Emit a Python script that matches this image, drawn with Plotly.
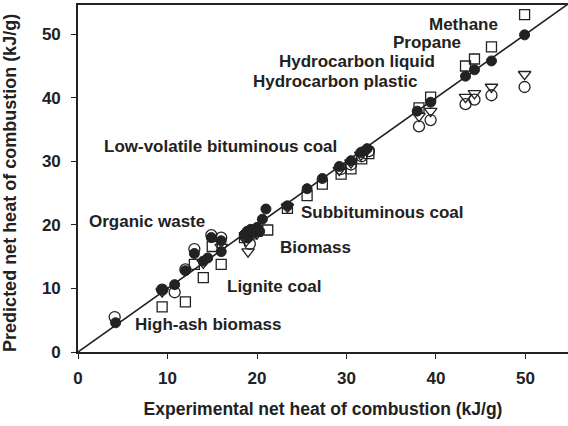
import plotly.graph_objects as go

# Filled circles (model prediction)
fc_x = [4.2, 9.4, 10.8, 12.0, 13.0, 14.0, 14.5, 14.9, 16.0, 16.0, 18.6, 18.9, 19.0, 19.3, 19.6, 20.0, 20.3, 20.6, 21.0,
        23.4, 25.6, 27.3, 29.2, 30.5, 31.6, 32.3, 37.9, 39.4, 43.3, 44.3, 46.2, 49.9]
fc_y = [4.6, 9.8, 10.6, 12.8, 15.5, 14.3, 14.8, 18.0, 15.8, 17.5, 18.5, 19.0, 18.0, 19.3, 18.8, 19.6, 19.0, 20.9, 22.5,
        23.0, 25.7, 27.3, 29.2, 30.1, 31.4, 32.0, 37.9, 39.3, 43.4, 44.4, 45.8, 49.9]

# Open circles
oc_x = [4.1, 9.4, 10.8, 12.0, 13.0, 14.9, 16.0, 18.8, 19.2, 20.0, 29.4, 30.5, 31.7, 32.5, 38.1, 39.4, 43.3, 44.3, 46.2, 49.9]
oc_y = [5.5, 9.8, 9.4, 13.0, 16.2, 18.4, 18.0, 18.2, 17.0, 19.3, 28.8, 29.5, 30.8, 31.6, 35.5, 36.5, 39.0, 39.7, 40.4, 41.7]

# Open down-triangles
tr_x = [9.4, 14.0, 16.0, 18.8, 19.0, 20.0, 23.4, 29.2, 30.5, 31.6, 32.3, 38.1, 39.4, 43.3, 44.3, 46.2, 49.9]
tr_y = [9.5, 14.0, 16.5, 17.5, 15.8, 18.6, 22.8, 28.6, 29.8, 31.0, 31.8, 37.1, 37.9, 40.1, 40.7, 41.7, 43.7]

# Open squares
sq_x = [9.4, 12.0, 13.0, 14.0, 15.0, 16.0, 18.6, 19.4, 20.0, 21.2, 23.4, 25.6, 27.3, 29.4, 30.5, 31.7, 32.5,
        38.1, 39.4, 43.3, 44.3, 46.2, 49.9]
sq_y = [7.1, 7.9, 13.8, 11.7, 16.6, 13.8, 18.0, 18.6, 19.0, 19.2, 22.6, 24.6, 26.4, 28.0, 28.8, 30.4, 31.2,
        38.4, 40.1, 45.0, 46.1, 48.0, 53.1]

line_xy = [0, 60]

labels = ["Methane", "Propane", "Hydrocarbon liquid", "Hydrocarbon plastic", "Low-volatile bituminous coal",
          "Organic waste", "Subbituminous coal", "Biomass", "Lignite coal", "High-ash biomass"]
label_x = [47.2, 43.0, 40.1, 38.1, 2.7, 1.0, 24.7, 22.3, 16.4, 6.1]
label_y = [51.5, 48.7, 45.7, 42.6, 32.4, 20.6, 21.9, 16.5, 10.3, 4.3]
label_anchor = ["right", "right", "right", "right", "left", "left", "left", "left", "left", "left"]

x_title = "Experimental net heat of combustion (kJ/g)"
y_title = "Predicted net heat of combustion (kJ/g)"

FONT = "Liberation Sans, Arial, sans-serif"
INK = "#222222"

fig = go.Figure()
fig.add_trace(go.Scatter(x=line_xy, y=line_xy, mode="lines", line=dict(color=INK, width=1.6),
                         hoverinfo="skip", showlegend=False))
mk_line = dict(color=INK, width=1.3)
fig.add_trace(go.Scatter(x=sq_x, y=sq_y, mode="markers", showlegend=False,
                         marker=dict(symbol="square-open", size=10, color=INK, line=mk_line)))
fig.add_trace(go.Scatter(x=tr_x, y=tr_y, mode="markers", showlegend=False,
                         marker=dict(symbol="triangle-down-open", size=11, color=INK, line=mk_line)))
fig.add_trace(go.Scatter(x=oc_x, y=oc_y, mode="markers", showlegend=False,
                         marker=dict(symbol="circle-open", size=11, color=INK, line=mk_line)))
fig.add_trace(go.Scatter(x=fc_x, y=fc_y, mode="markers", showlegend=False,
                         marker=dict(symbol="circle", size=10, color=INK, line=dict(color=INK, width=1))))

for t, x, y, a in zip(labels, label_x, label_y, label_anchor):
    fig.add_annotation(x=x, y=y, text=t, showarrow=False, xanchor=a, yanchor="middle",
                       font=dict(family=FONT, size=17, color=INK, weight="bold"))

# y-axis title placed as a rotated annotation
fig.add_annotation(xref="paper", yref="paper", x=-0.139, y=0.487, text=y_title, textangle=-90,
                   showarrow=False, xanchor="center", yanchor="middle",
                   font=dict(family=FONT, size=18, color=INK, weight="bold"))

fig.update_layout(
    width=568, height=426,
    margin=dict(l=78, r=0, t=5, b=74),
    paper_bgcolor="white", plot_bgcolor="white",
    font=dict(family=FONT, color=INK),
    xaxis=dict(range=[0, 54.75], tickvals=[0, 10, 20, 30, 40, 50], ticks="outside", ticklen=5,
               tickwidth=1.3, tickcolor=INK, showline=True, linecolor=INK, linewidth=1.6, mirror=True,
               showgrid=False, zeroline=False, ticklabelstandoff=5,
               tickfont=dict(size=17, color=INK, family=FONT, weight="bold"),
               title=dict(text=x_title, font=dict(size=17.5, color=INK, weight="bold"), standoff=16)),
    yaxis=dict(range=[0, 54.6], tickvals=[0, 10, 20, 30, 40, 50], ticks="outside", ticklen=5,
               tickwidth=1.3, tickcolor=INK, showline=True, linecolor=INK, linewidth=1.6,
               showgrid=False, zeroline=False, ticklabelstandoff=7,
               tickfont=dict(size=17, color=INK, family=FONT, weight="bold")),
)

fig.write_html("out.html")
